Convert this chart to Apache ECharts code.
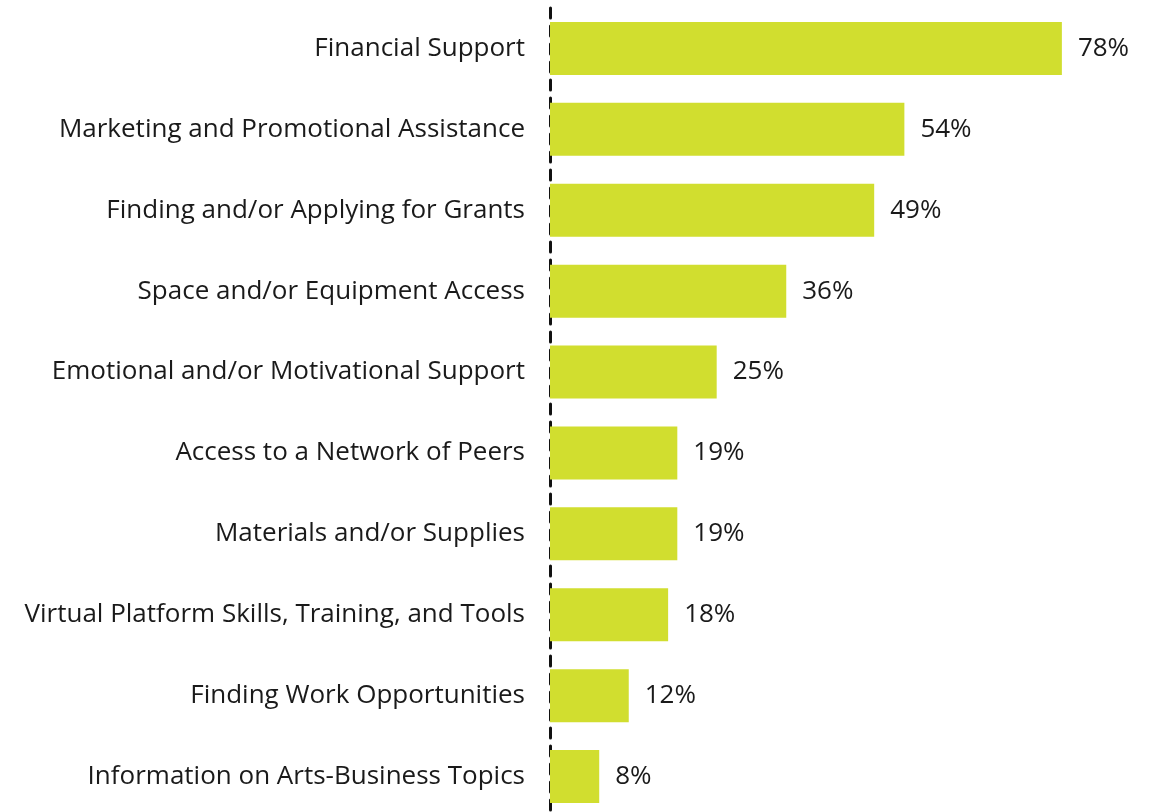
<!DOCTYPE html>
<html>
<head>
<meta charset="utf-8">
<script src="https://cdn.jsdelivr.net/npm/echarts@6/dist/echarts.min.js"></script>
<style>
  html, body { margin: 0; padding: 0; background: #fff; }
  #main { width: 1156px; height: 812px; }
</style>
</head>
<body>
<div id="main"></div>
<script>
// categories, top to bottom
var categories = [
  'Financial Support',
  'Marketing and Promotional Assistance',
  'Finding and/or Applying for Grants',
  'Space and/or Equipment Access',
  'Emotional and/or Motivational Support',
  'Access to a Network of Peers',
  'Materials and/or Supplies',
  'Virtual Platform Skills, Training, and Tools',
  'Finding Work Opportunities',
  'Information on Arts-Business Topics'
];
// percent of respondents
var values = [78, 54, 49.4, 36, 25.4, 19.4, 19.4, 18, 12, 7.5];

var chart = echarts.init(document.getElementById('main'));

var option = {
  animation: false,
  grid: {
    left: 550,
    top: 8,
    width: 525,
    height: 809,
    outerBoundsMode: 'none'
  },
  xAxis: {
    type: 'value',
    min: 0,
    max: 80,
    show: false
  },
  yAxis: {
    type: 'category',
    inverse: true,
    data: categories,
    axisTick: { show: false },
    axisLine: {
      show: true,
      lineStyle: { color: '#111', width: 3, type: [10, 8] }
    },
    axisLabel: {
      color: '#1a1a1a',
      fontSize: 26,
      fontFamily: 'Open Sans',
      margin: 25
    }
  },
  series: [
    {
      type: 'bar',
      data: values,
      barWidth: 53,
      itemStyle: { color: '#d1de2f' },
      label: {
        show: true,
        position: 'right',
        distance: 16,
        color: '#1a1a1a',
        fontSize: 26,
        fontFamily: 'Open Sans',
        formatter: function (p) { return Math.round(p.value) + '%'; }
      }
    }
  ]
};

chart.setOption(option);
</script>
</body>
</html>
